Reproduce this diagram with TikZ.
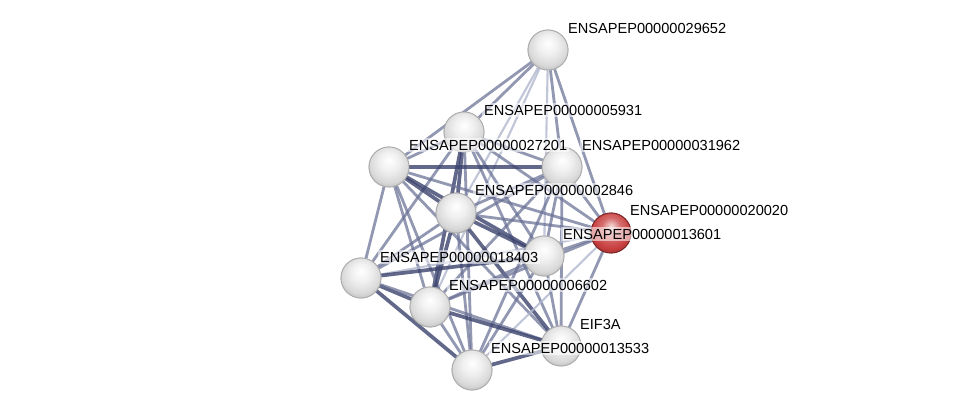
\documentclass[tikz,border=0pt]{standalone}
\usepackage{fontspec}
\setmainfont{Liberation Sans}
\usepackage{tikz}
\usetikzlibrary{positioning}
\definecolor{edgedark}{RGB}{58,66,108}
\definecolor{edgemid}{RGB}{104,112,148}
\definecolor{edgelight}{RGB}{176,182,206}
\definecolor{protred}{RGB}{200,62,62}
\pgfdeclareradialshading{sphere}{\pgfpoint{0bp}{9bp}}{%
  color(0bp)=(white); color(12bp)=(gray!12); color(24bp)=(gray!30);
  color(33bp)=(gray!58); color(50bp)=(gray!58)}
\pgfdeclareradialshading{redsphere}{\pgfpoint{0bp}{9bp}}{%
  color(0bp)=(protred!20!white); color(12bp)=(protred!75!white); color(24bp)=(protred);
  color(33bp)=(protred!75!black); color(50bp)=(protred!75!black)}
\tikzset{
  prot/.style={circle, minimum size=0.8cm, inner sep=0pt, draw=gray!65, line width=0.5pt,
    shading=sphere},
  query/.style={prot, draw=protred!60!black, shading=redsphere},
  lbl/.style={anchor=west, inner sep=1pt, fill=white, fill opacity=0.55, text opacity=1,
    font=\fontsize{8.3}{10}\selectfont},
  strong/.style={edgedark, line width=2.1pt, opacity=0.8},
  medium/.style={edgemid, line width=1.6pt, opacity=0.72},
  weak/.style={edgelight, line width=1.2pt, opacity=0.8},
}
\begin{document}
\begin{tikzpicture}[x=0.02cm, y=-0.02cm]
\useasboundingbox (0,0) rectangle (976,415);
% Define the vertices
\node[prot]  (n29652) at (548, 50) {};
\node[prot]  (n5931)  at (464,132) {};
\node[prot]  (n27201) at (389,167) {};
\node[prot]  (n31962) at (562,167) {};
\node[prot]  (n2846)  at (456,213) {};
\node[query] (n20020) at (611,233) {};
\node[prot]  (n13601) at (544,256) {};
\node[prot]  (n18403) at (361,278) {};
\node[prot]  (n6602)  at (430,307) {};
\node[prot]  (eif3a)  at (561,346) {};
\node[prot]  (n13533) at (472,370) {};

% Draw the edges
\draw[medium] (n29652) to (n27201);
\draw[medium] (n29652) to (n5931);
\draw[medium] (n29652) to (n31962);
\draw[medium] (n29652) to (n20020);
\draw[weak]   (n29652) to (n2846);
\draw[weak]   (n29652) to (n13601);
\draw[weak]   (n29652) to (n6602);

\draw[medium] (n5931) to (n27201);
\draw[medium] (n5931) to (n31962);
\draw[strong] (n5931) to (n2846);
\draw[strong] (n5931) to (n6602);
\draw[medium] (n5931) to (n18403);
\draw[medium] (n5931) to (n13601);
\draw[medium] (n5931) to (n13533);
\draw[medium] (n5931) to (n20020);
\draw[medium] (n5931) to (eif3a);

\draw[strong] (n27201) to (n31962);
\draw[strong] (n27201) to (n2846);
\draw[medium] (n27201) to (n18403);
\draw[medium] (n27201) to (n6602);
\draw[strong] (n27201) to (n13601);
\draw[medium] (n27201) to (n13533);
\draw[medium] (n27201) to (n20020);
\draw[medium] (n27201) to (eif3a);

\draw[medium] (n31962) to (n2846);
\draw[medium] (n31962) to (n18403);
\draw[medium] (n31962) to (n6602);
\draw[medium] (n31962) to (n13601);
\draw[medium] (n31962) to (n20020);
\draw[medium] (n31962) to (eif3a);
\draw[medium] (n31962) to (n13533);

\draw[medium] (n2846) to (n20020);
\draw[strong] (n2846) to (n13601);
\draw[medium] (n2846) to (n18403);
\draw[strong] (n2846) to (n6602);
\draw[strong] (n2846) to (eif3a);
\draw[medium] (n2846) to (n13533);

\draw[medium] (n20020) to (n13601);
\draw[medium] (n20020) to (eif3a);
\draw[medium] (n20020) to (n6602);
\draw[weak]   (n20020) to (n13533);
\draw[weak]   (n20020) to (n18403);

\draw[strong] (n13601) to (n18403);
\draw[medium] (n13601) to (n6602);
\draw[medium] (n13601) to (eif3a);
\draw[medium] (n13601) to (n13533);

\draw[strong] (n18403) to (n6602);
\draw[strong] (n18403) to (n13533);
\draw[medium] (n18403) to (eif3a);

\draw[strong] (n6602) to (eif3a);
\draw[medium] (n6602) to (n13533);

\draw[strong] (eif3a) to (n13533);

% Redraw the vertices on top of the edges
\node[prot]  at (n29652) {};
\node[prot]  at (n5931)  {};
\node[prot]  at (n27201) {};
\node[prot]  at (n31962) {};
\node[prot]  at (n2846)  {};
\node[query] at (n20020) {};
\node[prot]  at (n13601) {};
\node[prot]  at (n18403) {};
\node[prot]  at (n6602)  {};
\node[prot]  at (eif3a)  {};
\node[prot]  at (n13533) {};

% Labels
\node[lbl] (l29652) at (566, 28) {ENSAPEP00000029652};
\node[lbl] (l5931)  at (482,110) {ENSAPEP00000005931};
\node[lbl] (l27201) at (407,145) {ENSAPEP00000027201};
\node[lbl] (l31962) at (580,145) {ENSAPEP00000031962};
\node[lbl] (l2846)  at (473,190) {ENSAPEP00000002846};
\node[lbl] (l20020) at (628,210) {ENSAPEP00000020020};
\node[lbl] (l13601) at (561,234) {ENSAPEP00000013601};
\node[lbl] (l18403) at (378,257) {ENSAPEP00000018403};
\node[lbl] (l6602)  at (447,285) {ENSAPEP00000006602};
\node[lbl] (leif3a) at (578,324) {EIF3A};
\node[lbl] (l13533) at (489,348) {ENSAPEP00000013533};
\end{tikzpicture}
\end{document}
